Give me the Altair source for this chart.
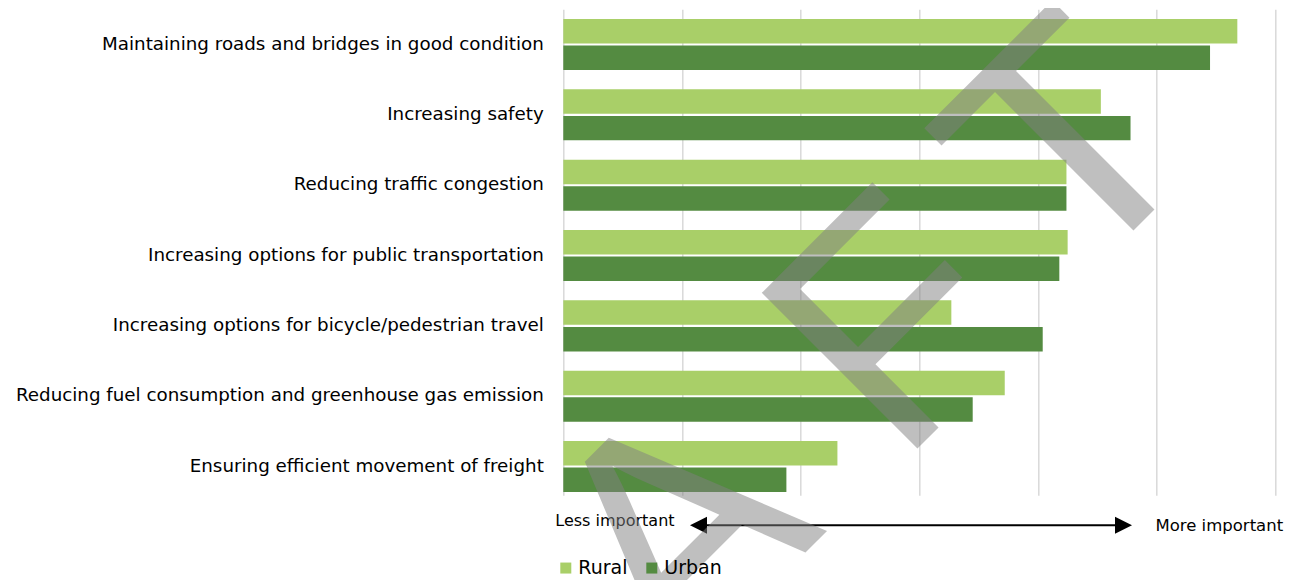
import altair as alt
import pandas as pd

categories = [
    "Maintaining roads and bridges in good condition",
    "Increasing safety",
    "Reducing traffic congestion",
    "Increasing options for public transportation",
    "Increasing options for bicycle/pedestrian travel",
    "Reducing fuel consumption and greenhouse gas emission",
    "Ensuring efficient movement of freight",
]
series = ["Rural", "Urban"]
rural = [5.68, 4.53, 4.24, 4.25, 3.27, 3.72, 2.31]
urban = [5.45, 4.78, 4.24, 4.18, 4.04, 3.45, 1.88]
colors = ["#A9CF68", "#548B41"]
x_ticks = [0, 1, 2, 3, 4, 5, 6]
scale_labels = ["Less important", "More important"]
watermark_letters = ["D", "R", "A", "F", "T"]

rows = []
for c, r, u in zip(categories, rural, urban):
    rows.append({"category": c, "series": "Rural", "value": r})
    rows.append({"category": c, "series": "Urban", "value": u})
df = pd.DataFrame(rows)

W, H = 712, 486
FONT = "DejaVu Sans"

bars = alt.Chart(df).mark_bar().encode(
    x=alt.X(
        "value:Q",
        scale=alt.Scale(domain=[0, 6], nice=False),
        axis=alt.Axis(values=x_ticks, labels=False, ticks=False, domain=False,
                      grid=True, gridColor="#D9D9D9", gridWidth=1.5, title=None),
    ),
    y=alt.Y(
        "category:N",
        sort=categories,
        scale=alt.Scale(paddingInner=0.2745, paddingOuter=0.092, align=0.75),
        axis=alt.Axis(title=None, ticks=False, domain=False, labelPadding=20,
                      labelFontSize=18.3, labelFont=FONT, labelColor="#000000",
                      labelLimit=700),
    ),
    yOffset=alt.YOffset("series:N", sort=series, scale=alt.Scale(paddingInner=0.08)),
    color=alt.Color(
        "series:N",
        sort=series,
        scale=alt.Scale(domain=series, range=colors),
        legend=alt.Legend(title=None, orient="none", legendX=-7, legendY=549,
                          direction="horizontal", symbolType="square",
                          symbolSize=121, symbolStrokeWidth=0,
                          labelFontSize=19, labelFont=FONT, labelColor="#000000",
                          columnPadding=14, labelOffset=3),
    ),
)

one = pd.DataFrame({"t": [0]})

less = alt.Chart(pd.DataFrame({"t": [scale_labels[0]]})).mark_text(
    align="left", baseline="alphabetic", fontSize=16, font=FONT, color="#000000"
).encode(text="t:N", x=alt.value(-8), y=alt.value(516.5))

more = alt.Chart(pd.DataFrame({"t": [scale_labels[1]]})).mark_text(
    align="center", baseline="alphabetic", fontSize=16.5, font=FONT, color="#000000"
).encode(text="t:N", x=alt.value(656), y=alt.value(522))

arrow_line = alt.Chart(one).mark_rule(color="#000000", strokeWidth=2).encode(
    x=alt.value(135), x2=alt.value(560), y=alt.value(516)
)
head_left = alt.Chart(one).mark_point(
    shape="M-1,0L1,-1L1,1Z", filled=True, size=289, color="#000000", opacity=1
).encode(x=alt.value(135.2), y=alt.value(516))
head_right = alt.Chart(one).mark_point(
    shape="M1,0L-1,-1L-1,1Z", filled=True, size=289, color="#000000", opacity=1
).encode(x=alt.value(560.2), y=alt.value(516))

wm_df = pd.DataFrame({
    "letter": watermark_letters,
    "px": [-199.3, -5.3, 188.7, 404.7, 580.7],
    "py": [987.7, 793.7, 596.7, 388.7, 210.7],
})
wm = alt.Chart(wm_df).mark_text(
    font="Liberation Sans", fontSize=320, angle=315, align="center",
    baseline="alphabetic", color="#808080", opacity=0.5
).encode(
    x=alt.X("px:Q", scale=None),
    y=alt.Y("py:Q", scale=None),
    text="letter:N",
)

chart = alt.layer(bars, less, more, arrow_line, head_left, head_right, wm).properties(
    width=W, height=H,
    autosize=alt.AutoSizeParams(type="none"),
    padding={"left": 555.3, "top": 1.3, "right": 13.7, "bottom": 84.7},
).configure_view(stroke=None)

chart.save("out.html", embed_options={"renderer": "svg", "actions": False})
